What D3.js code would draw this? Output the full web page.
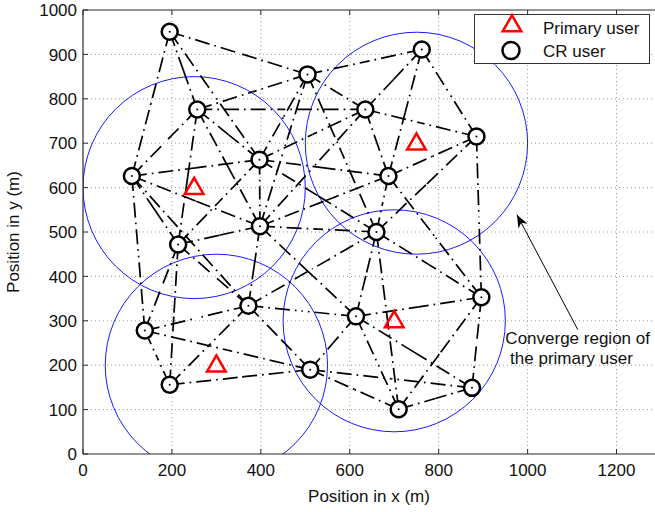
<!DOCTYPE html>
<html>
<head>
<meta charset="utf-8">
<script src="https://cdn.jsdelivr.net/npm/d3@7"></script>
<style>
  body { margin: 0; background: #fff; }
  svg { font-family: "Liberation Sans", Arial, sans-serif; }
</style>
</head>
<body>
<div id="chart"></div>
<script>
// --- data ---
// CR users (x, y in m)
const crX = [195, 505, 762, 257, 635, 885, 110, 397, 687, 214, 398, 660, 139, 372, 614, 896, 195, 511, 710, 875];
const crY = [951, 855, 911, 776, 776, 715, 626, 663, 626, 472, 513, 500, 278, 334, 310, 353, 156, 190, 101, 149];
// links between CR users (index pairs)
const links = [
  [0,1],[0,3],[0,6],[0,7],
  [1,2],[1,3],[1,4],[1,7],[1,10],[1,11],
  [2,4],[2,8],[2,5],
  [3,4],[3,6],[3,7],[3,9],[3,10],
  [4,5],[4,7],[4,8],[4,10],
  [5,8],[5,11],[5,15],
  [6,7],[6,9],[6,10],[6,12],[6,13],
  [7,8],[7,9],[7,10],[7,11],
  [8,11],[8,15],[8,10],
  [9,10],[9,12],[9,13],[9,16],
  [10,11],[10,13],[10,14],
  [11,13],[11,14],[11,15],[11,18],
  [12,13],[12,16],[12,17],
  [13,14],[13,16],[13,17],
  [14,15],[14,17],[14,18],[14,19],
  [15,18],[15,19],
  [16,17],
  [17,18],[17,19],
  [18,19]
];
// primary users and their coverage radius
const puX = [250, 750, 300, 700];
const puY = [600, 700, 200, 300];
const coverR = 250;

const xTicks = [0, 200, 400, 600, 800, 1000, 1200];
const yTicks = [0, 100, 200, 300, 400, 500, 600, 700, 800, 900, 1000];

const legendLabels = ["Primary user", "CR user"];
const noteLines = ["Converge region of", " the primary user"];
const noteXY = [950, 247];
const arrowFrom = [1113, 280];
const arrowTo = [976, 539];

// --- setup ---
const W = 655, H = 512;
const padLeft = 83, padTop = 10, padBottom = 454;
const x = d3.scaleLinear().domain([0, 1300]).range([padLeft, padLeft + 1300 * 0.4446]);
const y = d3.scaleLinear().domain([0, 1000]).range([padBottom, padTop]);

const svg = d3.select("#chart").append("svg")
  .attr("width", W).attr("height", H);

const defs = svg.append("defs");
defs.append("clipPath").attr("id", "plotclip")
  .append("rect")
  .attr("x", x(0)).attr("y", y(1000))
  .attr("width", x(1300) - x(0)).attr("height", y(0) - y(1000));

defs.append("marker")
  .attr("id", "ahead").attr("viewBox", "0 0 10 10")
  .attr("refX", 10).attr("refY", 5)
  .attr("markerWidth", 13).attr("markerHeight", 13)
  .attr("markerUnits", "userSpaceOnUse")
  .attr("orient", "auto")
  .append("path").attr("d", "M0,1 L10,5 L0,9 L3,5 Z").attr("fill", "#000");

// grid (dotted)
const grid = svg.append("g");
grid.selectAll(".gx").data(xTicks.filter(d => d > 0)).enter().append("line")
  .attr("x1", d => x(d)).attr("x2", d => x(d))
  .attr("y1", y(0)).attr("y2", y(1000))
  .attr("stroke", "#9a9a9a").attr("stroke-width", 1).attr("stroke-dasharray", "1,3");
grid.selectAll(".gy").data(yTicks.filter(d => d > 0 && d < 1000)).enter().append("line")
  .attr("x1", x(0)).attr("x2", x(1300))
  .attr("y1", d => y(d)).attr("y2", d => y(d))
  .attr("stroke", "#9a9a9a").attr("stroke-width", 1).attr("stroke-dasharray", "1,3");

const plot = svg.append("g").attr("clip-path", "url(#plotclip)");

// coverage regions
plot.selectAll(".cover").data(puX).enter().append("ellipse")
  .attr("cx", (d, i) => x(puX[i]))
  .attr("cy", (d, i) => y(puY[i]))
  .attr("rx", x(coverR) - x(0))
  .attr("ry", y(0) - y(coverR))
  .attr("fill", "none").attr("stroke", "#1a1aff").attr("stroke-width", 1);

// links: each drawn as two halves so the dash starts at both users
const halves = [];
links.forEach(([a, b]) => {
  const mx = (crX[a] + crX[b]) / 2, my = (crY[a] + crY[b]) / 2;
  halves.push([[crX[a], crY[a]], [mx, my]]);
  halves.push([[crX[b], crY[b]], [mx, my]]);
});
plot.selectAll(".link").data(halves).enter().append("line")
  .attr("x1", d => x(d[0][0])).attr("y1", d => y(d[0][1]))
  .attr("x2", d => x(d[1][0])).attr("y2", d => y(d[1][1]))
  .attr("stroke", "#000").attr("stroke-width", 1.7)
  .attr("stroke-dasharray", "15,5,1.7,5");

// CR users (marker hides the start of each link, leaving the spikes)
plot.selectAll(".cr").data(crX).enter().append("circle")
  .attr("cx", (d, i) => x(crX[i]))
  .attr("cy", (d, i) => y(crY[i]))
  .attr("r", 8)
  .attr("fill", "#fff").attr("stroke", "#000").attr("stroke-width", 2.5);
plot.selectAll(".crdot").data(crX).enter().append("circle")
  .attr("cx", (d, i) => x(crX[i]))
  .attr("cy", (d, i) => y(crY[i]))
  .attr("r", 1)
  .attr("fill", "#000");

// primary users
const tri = d3.symbol().type(d3.symbolTriangle).size(150);
plot.selectAll(".pu").data(puX).enter().append("path")
  .attr("d", tri)
  .attr("transform", (d, i) => `translate(${x(puX[i])},${y(puY[i]) + 1})`)
  .attr("fill", "none").attr("stroke", "#ff0000").attr("stroke-width", 2.5);

// axes box + ticks
const axisColor = "#2a2a2a";
svg.append("line").attr("x1", x(0)).attr("x2", x(1300)).attr("y1", y(0)).attr("y2", y(0))
  .attr("stroke", axisColor).attr("stroke-width", 1.2);
svg.append("line").attr("x1", x(0)).attr("x2", x(1300)).attr("y1", y(1000)).attr("y2", y(1000))
  .attr("stroke", axisColor).attr("stroke-width", 1.2);
svg.append("line").attr("x1", x(0)).attr("x2", x(0)).attr("y1", y(0)).attr("y2", y(1000))
  .attr("stroke", axisColor).attr("stroke-width", 1.2);

const ticks = svg.append("g").attr("stroke", axisColor).attr("stroke-width", 1);
xTicks.forEach(t => {
  ticks.append("line").attr("x1", x(t)).attr("x2", x(t)).attr("y1", y(0)).attr("y2", y(0) - 5);
  ticks.append("line").attr("x1", x(t)).attr("x2", x(t)).attr("y1", y(1000)).attr("y2", y(1000) + 5);
});
yTicks.forEach(t => {
  ticks.append("line").attr("x1", x(0)).attr("x2", x(0) + 5).attr("y1", y(t)).attr("y2", y(t));
});

svg.selectAll(".xl").data(xTicks).enter().append("text")
  .attr("x", d => x(d)).attr("y", y(0) + 22)
  .attr("text-anchor", "middle").attr("font-size", 17).attr("fill", "#111")
  .text(d => d);
svg.selectAll(".yl").data(yTicks).enter().append("text")
  .attr("x", x(0) - 6).attr("y", d => y(d)).attr("dy", "0.36em")
  .attr("text-anchor", "end").attr("font-size", 17).attr("fill", "#111")
  .text(d => d);

svg.append("text")
  .attr("x", (x(0) + x(1300)) / 2 - 3).attr("y", 502)
  .attr("text-anchor", "middle").attr("font-size", 17).attr("fill", "#111")
  .text("Position in x (m)");
svg.append("text")
  .attr("transform", `translate(19,${(y(0) + y(1000)) / 2}) rotate(-90)`)
  .attr("text-anchor", "middle").attr("font-size", 17).attr("fill", "#111")
  .text("Position in y (m)");

// annotation
svg.append("line")
  .attr("x1", x(arrowFrom[0])).attr("y1", y(arrowFrom[1]))
  .attr("x2", x(arrowTo[0])).attr("y2", y(arrowTo[1]))
  .attr("stroke", "#000").attr("stroke-width", 1)
  .attr("marker-end", "url(#ahead)");
svg.selectAll(".note").data(noteLines).enter().append("text")
  .attr("x", x(noteXY[0])).attr("y", (d, i) => y(noteXY[1]) + i * 20)
  .attr("font-size", 17).attr("fill", "#111")
  .attr("xml:space", "preserve")
  .text(d => d);

// legend
const lg = svg.append("g");
lg.append("rect").attr("x", 474.5).attr("y", 14.5).attr("width", 175).attr("height", 49)
  .attr("fill", "#fff").attr("stroke", "#333").attr("stroke-width", 1);
lg.append("path").attr("d", tri).attr("transform", "translate(512,26)")
  .attr("fill", "none").attr("stroke", "#ff0000").attr("stroke-width", 2.5);
lg.append("circle").attr("cx", 511).attr("cy", 50.5).attr("r", 8.5)
  .attr("fill", "none").attr("stroke", "#000").attr("stroke-width", 2.5);
lg.selectAll(".lt").data(legendLabels).enter().append("text")
  .attr("x", 543).attr("y", (d, i) => 34 + i * 23)
  .attr("font-size", 17).attr("fill", "#111")
  .text(d => d);
</script>
</body>
</html>
